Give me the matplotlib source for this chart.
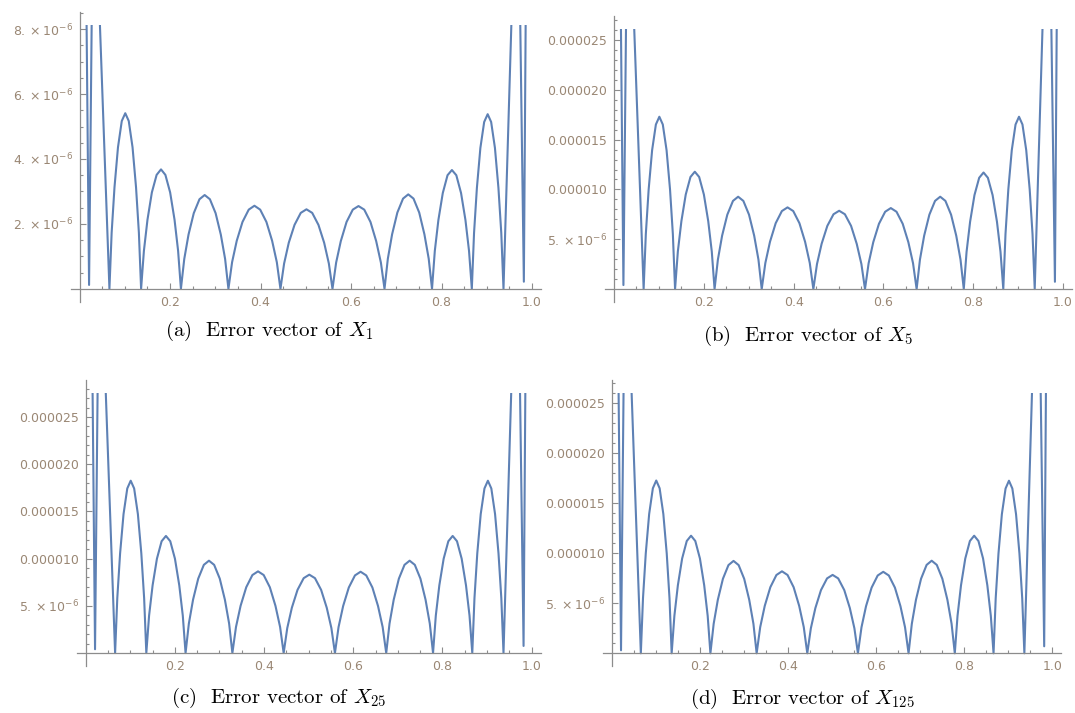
import numpy as np
import matplotlib
matplotlib.use("Agg")
import matplotlib.pyplot as plt
from matplotlib.patches import Rectangle
from matplotlib.ticker import FixedLocator

# sample positions along [0, 1] (shared by all four error curves)
x_pts = [0.010, 0.021, 0.0325, 0.043,
         0.066, 0.0709, 0.0772, 0.0849, 0.0933, 0.101, 0.1087, 0.1171, 0.1248, 0.1311,
         0.136, 0.1422, 0.1501, 0.1598, 0.1703, 0.180, 0.1897, 0.2002, 0.2099, 0.2178,
         0.224, 0.2314, 0.2408, 0.2524, 0.2650, 0.2765, 0.2881, 0.3007, 0.3122, 0.3217,
         0.329, 0.3371, 0.3474, 0.3601, 0.3739, 0.3865, 0.3992, 0.4130, 0.4256, 0.4360,
         0.444, 0.4521, 0.4624, 0.4751, 0.4889, 0.5015, 0.5142, 0.5280, 0.5406, 0.5510,
         0.559, 0.5671, 0.5774, 0.5901, 0.6039, 0.6165, 0.6292, 0.6430, 0.6556, 0.6660,
         0.674, 0.6814, 0.6908, 0.7024, 0.7150, 0.7265, 0.7381, 0.7507, 0.7622, 0.7717,
         0.779, 0.7852, 0.7931, 0.8028, 0.8133, 0.823, 0.8327, 0.8432, 0.8529, 0.8608,
         0.867, 0.8719, 0.8782, 0.8859, 0.8943, 0.902, 0.9097, 0.9181, 0.9258, 0.9321,
         0.937, 0.956, 0.966, 0.982, 0.990]

# error values, in units of 1e-6
err_x1 = [16.2, 0.12, 16.2, 8.9,
          0, 1.73, 3.13, 4.36, 5.17, 5.41, 5.17, 4.36, 3.13, 1.73,
          0, 1.17, 2.13, 2.97, 3.51, 3.68, 3.51, 2.97, 2.13, 1.17,
          0, 0.92, 1.67, 2.33, 2.76, 2.89, 2.76, 2.33, 1.67, 0.92,
          0, 0.82, 1.48, 2.06, 2.44, 2.56, 2.44, 2.06, 1.48, 0.82,
          0, 0.78, 1.42, 1.97, 2.34, 2.45, 2.34, 1.97, 1.42, 0.78,
          0, 0.81, 1.47, 2.06, 2.44, 2.55, 2.44, 2.06, 1.47, 0.81,
          0, 0.93, 1.68, 2.35, 2.78, 2.91, 2.78, 2.35, 1.68, 0.93,
          0, 1.17, 2.12, 2.95, 3.50, 3.66, 3.50, 2.95, 2.12, 1.17,
          0, 1.72, 3.11, 4.34, 5.14, 5.38, 5.14, 4.34, 3.11, 1.72,
          0, 8.9, 16.2, 0.22, 16.2]

err_x5 = [52.0, 0.4, 52.0, 28.7,
          0, 5.52, 10.00, 13.94, 16.52, 17.30, 16.52, 13.94, 10.00, 5.52,
          0, 3.76, 6.81, 9.49, 11.25, 11.78, 11.25, 9.49, 6.81, 3.76,
          0, 2.96, 5.36, 7.47, 8.85, 9.27, 8.85, 7.47, 5.36, 2.96,
          0, 2.62, 4.74, 6.61, 7.83, 8.20, 7.83, 6.61, 4.74, 2.62,
          0, 2.51, 4.54, 6.34, 7.51, 7.86, 7.51, 6.34, 4.54, 2.51,
          0, 2.59, 4.70, 6.55, 7.76, 8.13, 7.76, 6.55, 4.70, 2.59,
          0, 2.96, 5.36, 7.47, 8.85, 9.27, 8.85, 7.47, 5.36, 2.96,
          0, 3.73, 6.76, 9.43, 11.17, 11.70, 11.17, 9.43, 6.76, 3.73,
          0, 5.52, 10.00, 13.94, 16.52, 17.30, 16.52, 13.94, 10.00, 5.52,
          0, 28.7, 52.0, 0.73, 52.0]

err_x25 = [55.0, 0.4, 55.0, 30.3,
           0, 5.82, 10.55, 14.71, 17.43, 18.25, 17.43, 14.71, 10.55, 5.82,
           0, 3.96, 7.17, 9.99, 11.84, 12.40, 11.84, 9.99, 7.17, 3.96,
           0, 3.12, 5.65, 7.88, 9.34, 9.78, 9.34, 7.88, 5.65, 3.12,
           0, 2.76, 5.00, 6.97, 8.26, 8.65, 8.26, 6.97, 5.00, 2.76,
           0, 2.65, 4.80, 6.69, 7.93, 8.30, 7.93, 6.69, 4.80, 2.65,
           0, 2.75, 4.98, 6.94, 8.22, 8.61, 8.22, 6.94, 4.98, 2.75,
           0, 3.12, 5.65, 7.88, 9.34, 9.78, 9.34, 7.88, 5.65, 3.12,
           0, 3.96, 7.17, 9.99, 11.84, 12.40, 11.84, 9.99, 7.17, 3.96,
           0, 5.82, 10.55, 14.71, 17.43, 18.25, 17.43, 14.71, 10.55, 5.82,
           0, 30.3, 55.0, 0.75, 55.0]

err_x125 = [52.0, 0.3, 52.0, 28.6,
            0, 5.51, 9.99, 13.93, 16.50, 17.28, 16.50, 13.93, 9.99, 5.51,
            0, 3.75, 6.80, 9.48, 11.23, 11.76, 11.23, 9.48, 6.80, 3.75,
            0, 2.95, 5.34, 7.45, 8.82, 9.24, 8.82, 7.45, 5.34, 2.95,
            0, 2.62, 4.74, 6.61, 7.83, 8.20, 7.83, 6.61, 4.74, 2.62,
            0, 2.50, 4.53, 6.32, 7.49, 7.84, 7.49, 6.32, 4.53, 2.50,
            0, 2.60, 4.71, 6.57, 7.78, 8.15, 7.78, 6.57, 4.71, 2.60,
            0, 2.95, 5.35, 7.46, 8.84, 9.26, 8.84, 7.46, 5.35, 2.95,
            0, 3.75, 6.80, 9.48, 11.23, 11.76, 11.23, 9.48, 6.80, 3.75,
            0, 5.51, 9.98, 13.91, 16.48, 17.26, 16.48, 13.91, 9.98, 5.51,
            0, 28.6, 52.0, 0.7, 52.0]

captions = [r"(a)  Error vector of ", r"(b)  Error vector of ",
            r"(c)  Error vector of ", r"(d)  Error vector of "]
cap_math = [r"$X_{1}$", r"$X_{5}$", r"$X_{25}$", r"$X_{125}$"]

x_ticks = [0.2, 0.4, 0.6, 0.8, 1.0]
x_tick_labels = ["0.2", "0.4", "0.6", "0.8", "1.0"]
y_ticks_a = [2, 4, 6, 8]
y_labels_a = [r"$2.\times10^{-6}$", r"$4.\times10^{-6}$",
              r"$6.\times10^{-6}$", r"$8.\times10^{-6}$"]
y_ticks_b = [5, 10, 15, 20, 25]
y_labels_b = [r"$5.\times10^{-6}$", "0.000010", "0.000015", "0.000020", "0.000025"]

series = [err_x1, err_x5, err_x25, err_x125]
y_ticks = [y_ticks_a, y_ticks_b, y_ticks_b, y_ticks_b]
y_labels = [y_labels_a, y_labels_b, y_labels_b, y_labels_b]
y_minor_step = [0.5, 1.0, 1.0, 1.0]
clip_top = [8.12, 26.07, 27.5, 26.0]   # Mathematica plot range top

# layout (figure fractions)
axes_rects = [[0.0656, 0.5764, 0.4377, 0.4067],
              [0.5628, 0.5764, 0.4344, 0.4006],
              [0.0714, 0.0659, 0.4314, 0.4006],
              [0.5609, 0.0655, 0.4260, 0.4011]]
cap_pos = [(269.5, 331), (808, 336), (279, 698), (802, 699)]

line_color = "#5E81B5"
axis_color = "#8c8c8c"
label_color = "#9a8774"

fig = plt.figure(figsize=(10.75, 7.13), dpi=100)

for i in range(4):
    ax = fig.add_axes(axes_rects[i])
    T = clip_top[i]
    lo, hi = -0.05 * T, 1.05 * T
    ax.set_xlim(-0.02, 1.02)
    ax.set_ylim(lo, hi)

    line, = ax.plot(x_pts, series[i], color=line_color, lw=1.5,
                    solid_joinstyle="round")
    clip = Rectangle((-0.02, lo), 1.04, T - lo, transform=ax.transData)
    line.set_clip_path(clip)

    # Mathematica style axes crossing at the origin
    for s in ["top", "right"]:
        ax.spines[s].set_visible(False)
    ax.spines["left"].set_position(("data", 0))
    ax.spines["bottom"].set_position(("data", 0))
    for s in ["left", "bottom"]:
        ax.spines[s].set_color(axis_color)
        ax.spines[s].set_linewidth(0.9)

    ax.set_xticks(x_ticks)
    ax.set_xticklabels(x_tick_labels)
    ax.xaxis.set_minor_locator(FixedLocator(
        [v for v in np.arange(0.05, 1.001, 0.05) if min(abs(v - t) for t in x_ticks) > 1e-6]))
    ax.set_yticks(y_ticks[i])
    ax.set_yticklabels(y_labels[i])
    st = y_minor_step[i]
    ax.yaxis.set_minor_locator(FixedLocator(
        [v for v in np.arange(st, hi, st) if min(abs(v - t) for t in y_ticks[i]) > 1e-6]))

    ax.tick_params(which="both", direction="in", color=axis_color, width=0.8,
                   labelcolor=label_color, labelsize=9)
    ax.tick_params(which="major", length=4.5)
    ax.tick_params(which="minor", length=2.5)
    ax.tick_params(axis="x", pad=5)
    ax.tick_params(axis="y", pad=5)
    for lab in ax.get_yticklabels():
        lab.set_math_fontfamily("dejavusans")

    # caption below the panel
    cx, cy = cap_pos[i]
    fig.text(cx / 1075, 1 - cy / 713, captions[i] + cap_math[i],
             ha="center", va="center", fontsize=15, family="cmr10",
             math_fontfamily="cm")

fig.savefig("out.png", dpi=100)
